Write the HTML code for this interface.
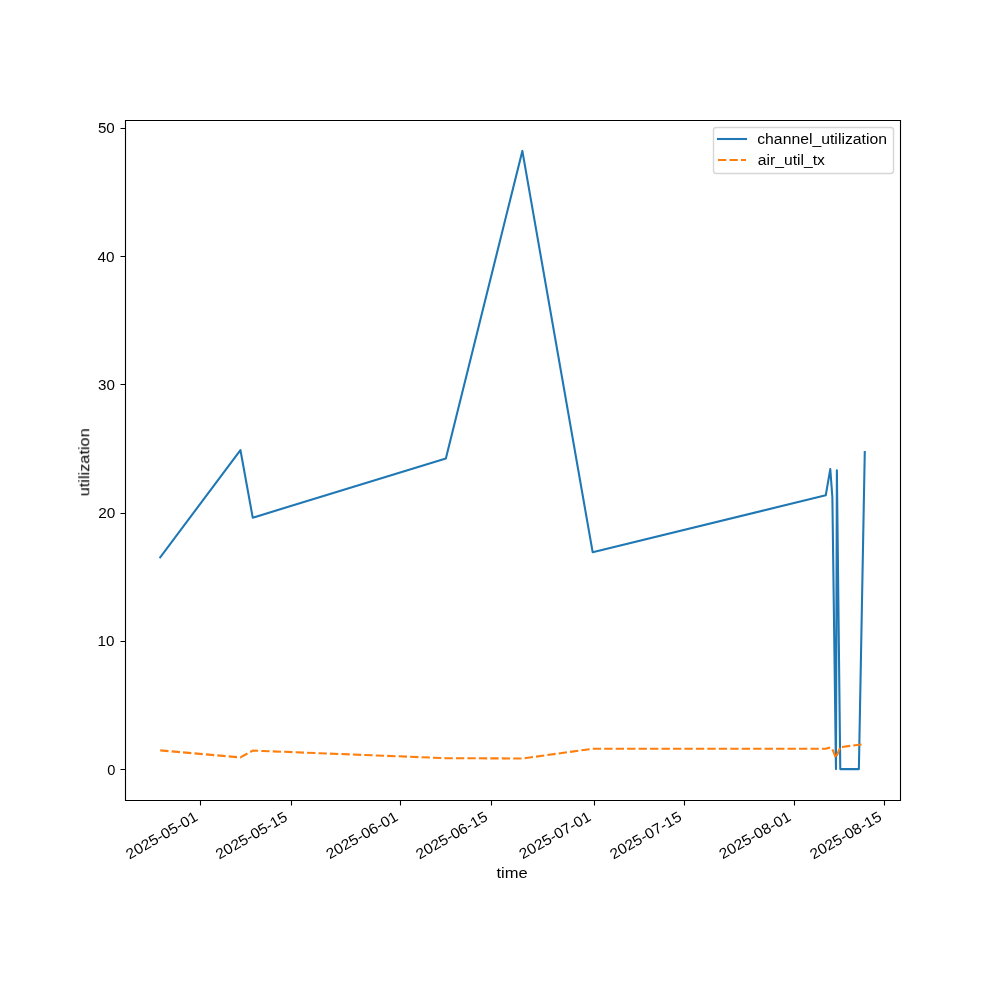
<!DOCTYPE html>
<html><head><meta charset="utf-8"><title>utilization</title>
<style>html,body{margin:0;padding:0;background:#fff;width:1000px;height:1000px;overflow:hidden}svg{display:block}text{font-family:"Liberation Sans",sans-serif;font-size:13.8889px;fill:#000}</style></head>
<body><svg width="1000" height="1000" viewBox="0 0 1000 1000">
<rect width="1000" height="1000" fill="#fff"/>
<path d="M125.5 800.5H900.5V120.5H125.5Z" fill="none" stroke="#000" stroke-width="1.1111" stroke-linejoin="miter" stroke-linecap="square"/>
<path d="M200.5 800.5V805.5M291.5 800.5V805.5M400.5 800.5V805.5M491.5 800.5V805.5M594.5 800.5V805.5M684.5 800.5V805.5M794.5 800.5V805.5M884.5 800.5V805.5" stroke="#000" stroke-width="1.1111"/>
<path d="M125.5 769.5H120.5M125.5 641.5H120.5M125.5 513.5H120.5M125.5 384.5H120.5M125.5 256.5H120.5M125.5 128.5H120.5" stroke="#000" stroke-width="1.1111"/>
<path d="M160.227 557.394L240.432 450.045L252.733 517.676L445.846 458.449L522.351 150.909L592.655 552.192L825.770 495.266L830.271 469.054L832.371 497.067L835.971 769.091L836.871 470.355L840.271 769.091L858.872 769.091L864.773 452.046" fill="none" stroke="#1f77b4" stroke-width="2.0833" stroke-linecap="square" stroke-linejoin="round"/>
<path d="M160.227 750.382L240.432 757.386L252.733 750.582L445.846 758.186L522.351 758.486L592.655 748.782L825.770 748.832L830.271 747.481L832.371 749.282L835.971 757.986L836.871 755.485L840.271 747.281" fill="none" stroke="#ff7f0e" stroke-width="2.0833" stroke-dasharray="8.3333 3.1250" stroke-linejoin="round"/>
<path d="M840.271 747.281L858.872 744.680L863.800 744.500" fill="none" stroke="#ff7f0e" stroke-width="2.0833" stroke-dasharray="8.3333 3.1250" stroke-dashoffset="9.7378" stroke-linejoin="round"/>
<path d="M716.28 173.5H890.72Q893.5 173.5 893.5 170.72V130.28Q893.5 127.5 890.72 127.5H716.28Q713.5 127.5 713.5 130.28V170.72Q713.5 173.5 716.28 173.5Z" fill="#fff" fill-opacity="0.8" stroke="#ccc" stroke-opacity="0.8" stroke-width="1.3889" stroke-linejoin="miter"/>
<path d="M718.000 139H746.000" stroke="#1f77b4" stroke-width="2.0833" stroke-linecap="square"/>
<path d="M718.000 160H746.000" stroke="#ff7f0e" stroke-width="2.0833" stroke-dasharray="8.333 3.125"/>
<g opacity="0.999">
<text transform="translate(129.407 859.758) rotate(-30) translate(0.231 0) scale(1.1256 1.0629)">2025-05-01</text>
<text transform="translate(219.140 859.906) rotate(-30) translate(0.232 0) scale(1.1250 1.0629)">2025-05-15</text>
<text transform="translate(329.594 859.637) rotate(-30) translate(0.231 0) scale(1.1256 1.0629)">2025-06-01</text>
<text transform="translate(419.322 859.806) rotate(-30) translate(0.232 0) scale(1.1250 1.0629)">2025-06-15</text>
<text transform="translate(522.634 859.664) rotate(-30) translate(0.231 0) scale(1.1256 1.0629)">2025-07-01</text>
<text transform="translate(613.348 859.789) rotate(-30) translate(0.232 0) scale(1.1250 1.0629)">2025-07-15</text>
<text transform="translate(722.576 859.675) rotate(-30) translate(0.231 0) scale(1.1256 1.0629)">2025-08-01</text>
<text transform="translate(813.313 859.803) rotate(-30) translate(0.232 0) scale(1.1250 1.0629)">2025-08-15</text>
<text transform="translate(496.281 877.708) translate(0.123 0) scale(1.1911 1.0485)">time</text>
<text transform="translate(106.884 775.343) translate(0.344 0) scale(1.0543 1.0629)">0</text>
<text transform="translate(97.151 645.972) translate(0.361 0) scale(1.0996 1.0629)">10</text>
<text transform="translate(97.973 518.026) translate(0.244 0) scale(1.1075 1.0629)">20</text>
<text transform="translate(97.473 389.505) translate(0.481 0) scale(1.0916 1.0629)">30</text>
<text transform="translate(97.236 262.004) translate(0.328 0) scale(1.1018 1.0629)">40</text>
<text transform="translate(97.435 133.252) translate(0.465 0) scale(1.0926 1.0629)">50</text>
<text transform="translate(88.906 496.436) rotate(-90) translate(0.120 0) scale(1.1742 1.0485)">utilization</text>
<text transform="translate(757.109 143.987) translate(0.095 0) scale(1.1366 1.0485)">channel_utilization</text>
<text transform="translate(757.682 165.380) translate(0.167 0) scale(1.1296 1.0485)">air_util_tx</text>
</g>
</svg></body></html>
